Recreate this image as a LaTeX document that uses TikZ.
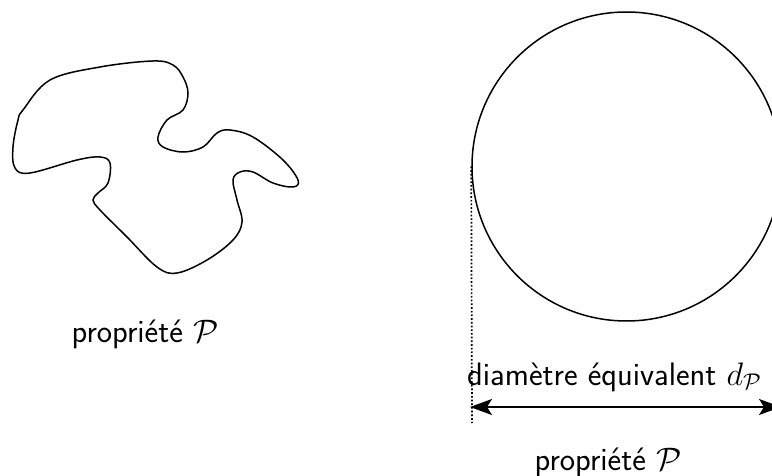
\RequirePackage{fix-cm}
\documentclass[tikz,border=0pt]{standalone}
\usepackage{fontspec}
\usetikzlibrary{arrows.meta}
\tikzset{
  outline/.style={line width=1.5pt},
  lbl/.style={font=\fontsize{32.5}{38}\selectfont\sffamily, inner sep=0pt},
  dimarrow/.style={line width=1.8pt, {Stealth[length=22pt,width=16pt,inset=5pt]}-{Stealth[length=22pt,width=16pt,inset=5pt]}},
}
\begin{document}
\begin{tikzpicture}[x=1pt,y=-1pt]
\useasboundingbox (0,0) rectangle (772,476);
% blob
\draw[outline] plot[smooth cycle, tension=0.6] coordinates {
 (23,110) (50,80) (100,67) (153,61) (173,65) (183,77) (188,93) (183,110)
 (167,120) (158,137) (163,147) (183,152) (203,147) (217,133) (230,130)
 (253,137) (283,160) (298,180) (293,187) (273,183) (253,172) (240,172)
 (233,180) (237,200) (242,222) (233,240) (207,260) (177,273) (157,267)
 (127,237) (100,210) (93,200) (98,193) (108,183) (110,163) (100,157)
 (77,160) (30,173) (15,168) (13,147) (18,120)};
\node[lbl, anchor=base] (L1) at (145,342) {propriété $\mathcal{P}$};
% circle
\node[circle, draw, outline, minimum size=309pt, inner sep=0pt] (C) at (626.5,166.5) {};
\coordinate (dotend) at (472,423);
\draw[line width=1.7pt, dotted] (C.west) -- (dotend);
\coordinate (a) at (470,407);
\coordinate (b) at (781,407);
\draw[dimarrow] (a) -- (b);
\node[lbl, anchor=base west] (D) at (467,385) {diamètre équivalent $d_{\mathcal{P}}$};
\node[lbl, anchor=base] (L2) at (608,470) {propriété $\mathcal{P}$};
\end{tikzpicture}
\end{document}
